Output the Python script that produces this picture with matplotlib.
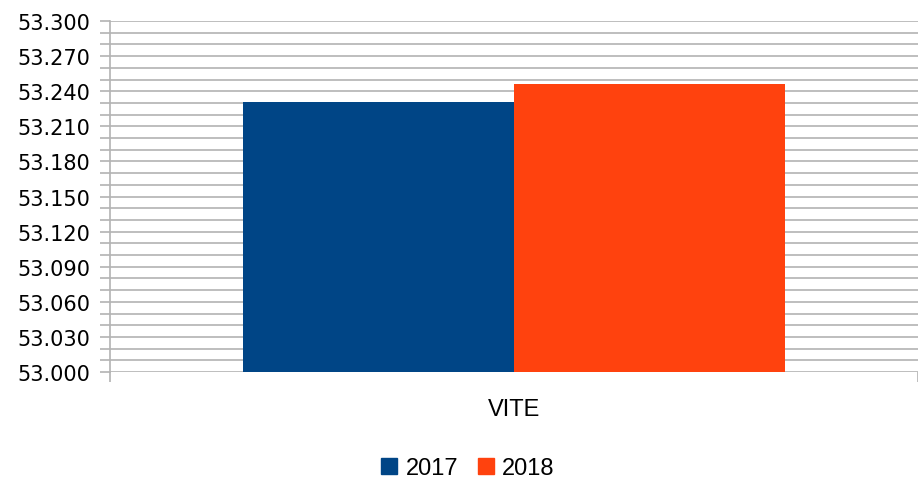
import matplotlib
matplotlib.use('Agg')
import matplotlib.pyplot as plt
from matplotlib.lines import Line2D
import numpy as np

# Data
categories = ['VITE']
series_names = ['2017', '2018']
values_2017 = [53.231]
values_2018 = [53.246]
colors = ['#004586', '#ff420e']

fig = plt.figure(figsize=(9.18, 4.81), dpi=100)
ax = fig.add_axes([110 / 918, 1 - 373 / 481, 808 / 918, 351 / 481])

width = 0.335
x = np.arange(len(categories))
ax.bar(x - width / 2, values_2017, width, color=colors[0], zorder=3)
ax.bar(x + width / 2, values_2018, width, color=colors[1], zorder=3)

ax.set_ylim(53.0, 53.3)
ax.set_xlim(-0.5, len(categories) - 0.5)

grid_col = '#b3b3b3'
ax.set_yticks(np.arange(53.0, 53.3001, 0.03))
ax.set_yticks(np.arange(53.0, 53.3001, 0.01), minor=True)
ax.set_yticklabels([f'{v:.3f}' for v in np.arange(53.0, 53.3001, 0.03)],
                   fontsize=15, family='DejaVu Sans')
ax.yaxis.grid(True, which='both', color=grid_col, linewidth=1.2, zorder=0)
ax.tick_params(axis='y', which='both', length=7, width=1.2, color=grid_col, pad=7)

# category boundaries as major ticks, label on minor tick
ax.set_xticks([-0.5, 0.5])
ax.set_xticklabels([])
ax.set_xticks(x, minor=True)
ax.set_xticklabels(categories, minor=True, fontsize=17, family='Liberation Sans')
ax.tick_params(axis='x', which='major', length=7, width=1.2, color=grid_col)
ax.tick_params(axis='x', which='minor', length=0, pad=19)

for s in ['top', 'right', 'bottom']:
    ax.spines[s].set_visible(False)
ax.spines['left'].set_color(grid_col)
ax.spines['left'].set_linewidth(1.2)

handles = [Line2D([0], [0], marker='s', linestyle='none', markersize=12,
                  markerfacecolor=c, markeredgecolor=c) for c in colors]
fig.legend(handles, series_names, loc='center', bbox_to_anchor=(468 / 918, 1 - 469 / 481),
           ncol=2, frameon=False, prop={'family': 'Liberation Sans', 'size': 17},
           handletextpad=0.35, columnspacing=0.8, handlelength=0.7)

fig.savefig('out.png', dpi=100)
